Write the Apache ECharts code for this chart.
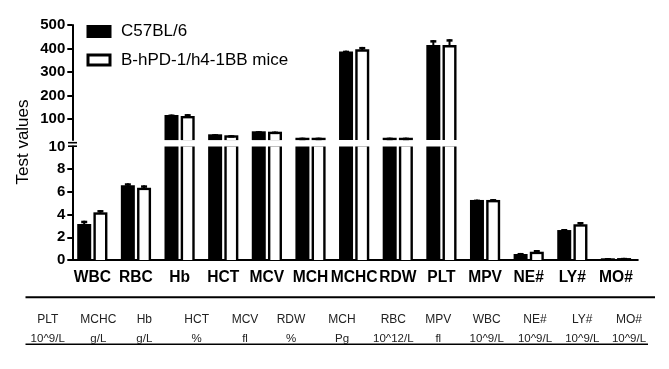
<!DOCTYPE html>
<html><head><meta charset="utf-8">
<script src="https://cdn.jsdelivr.net/npm/echarts@6/dist/echarts.min.js"></script>
<style>html,body{margin:0;padding:0;background:#fff}#c{width:669px;height:369px}</style>
</head><body><div id="c"></div>
<script>
// ---- data ----
const categories = ['WBC','RBC','Hb','HCT','MCV','MCH','MCHC','RDW','PLT','MPV','NE#','LY#','MO#'];
const seriesNames = ['C57BL/6','B-hPD-1/h4-1BB mice'];
const c57Values = [3.17, 6.58, 117, 34.7, 47.5, 20, 387, 20, 415, 5.29, 0.53, 2.64, 0.15];
const c57Errors = [0.29, 0.18, 2, 0.5, 0.5, 0.3, 4, 0.3, 21, 0.03, 0.09, 0.09, 0.02];
const hpdValues = [4.2, 6.37, 112.8, 30.5, 45.8, 20, 397, 20, 415, 5.29, 0.73, 3.15, 0.17];
const hpdErrors = [0.2, 0.21, 8, 0.5, 0.5, 0.3, 10, 0.3, 25, 0.08, 0.15, 0.2, 0.02];
const lowerTicks = [0, 2, 4, 6, 8];
const upperTicks = [100, 200, 300, 400, 500];
const tableNames = ['PLT','MCHC','Hb','HCT','MCV','RDW','MCH','RBC','MPV','WBC','NE#','LY#','MO#'];
const tableUnits = ['10^9/L','g/L','g/L','%','fl','%','Pg','10^12/L','fl','10^9/L','10^9/L','10^9/L','10^9/L'];

// ---- layout / style ----
const FONT = '"Liberation Sans", Arial, sans-serif';
const BW = 14, BORDER = 2.4, OFFSET = 8.1;
const tableColX = [47.7, 98.3, 144.3, 196.7, 245, 291, 342, 393.3, 438.3, 486.7, 535, 582.3, 629];

function toData(vals, errs) { return vals.map((v, i) => [i, v, errs[i]]); }

function makeRender(kind) {
  return function (params, api) {
    const cat = api.value(0), v = api.value(1), e = api.value(2);
    const cs = params.coordSys;
    const p = api.coord([cat, v]);
    const cx = p[0] + (kind === 'black' ? -OFFSET : OFFSET);
    const bottom = cs.y + cs.height;
    const top = Math.max(p[1], cs.y);
    const children = [];
    if (top < bottom) {
      children.push({type: 'rect', shape: {x: cx - BW / 2, y: top, width: BW, height: bottom - top}, style: {fill: '#000'}});
      if (kind === 'white') {
        const it = Math.max(p[1] + BORDER, cs.y);
        if (it < bottom) children.push({type: 'rect', shape: {x: cx - BW / 2 + BORDER, y: it, width: BW - 2 * BORDER, height: bottom - it}, style: {fill: '#fff'}});
      }
    }
    if (e > 0) {
      const pe = api.coord([cat, v + e]);
      if (p[1] <= bottom && p[1] >= cs.y) {
        children.push({type: 'rect', shape: {x: cx - 1, y: pe[1], width: 2, height: p[1] - pe[1] + 1}, style: {fill: '#000'}});
        children.push({type: 'rect', shape: {x: cx - 3, y: pe[1], width: 6, height: 2.5}, style: {fill: '#000'}});
      }
    }
    return {type: 'group', children};
  };
}

const axisLineStyle = {color: '#000', width: 2};
const labelStyle = {color: '#000', fontSize: 15, fontWeight: 'bold', fontFamily: FONT};

const graphics = [];
graphics.push({type: 'text', x: 23, y: 142, rotation: Math.PI / 2,
  style: {text: 'Test values', font: '17px ' + FONT, fill: '#000', align: 'center', verticalAlign: 'middle'}});
// axis break markers
[142.7, 146.2].forEach(y => graphics.push({type: 'line', shape: {x1: 68, y1: y, x2: 77, y2: y}, style: {stroke: '#000', lineWidth: 1.6}}));
// table
graphics.push({type: 'line', shape: {x1: 25.5, y1: 297.3, x2: 655, y2: 297.3}, style: {stroke: '#000', lineWidth: 2}});
graphics.push({type: 'line', shape: {x1: 25.5, y1: 344.3, x2: 648, y2: 344.3}, style: {stroke: '#000', lineWidth: 1.5}});
tableNames.forEach((t, i) => graphics.push({type: 'text', x: tableColX[i], y: 319.3,
  style: {text: t, font: '12px ' + FONT, fill: '#222', align: 'center', verticalAlign: 'middle'}}));
tableUnits.forEach((t, i) => graphics.push({type: 'text', x: tableColX[i], y: 339.3,
  style: {text: t, font: '11.5px ' + FONT, fill: '#222', align: 'center', verticalAlign: 'middle'}}));

const chart = echarts.init(document.getElementById('c'), null, {renderer: 'canvas'});
chart.setOption({
  animation: false,
  backgroundColor: '#fff',
  legend: {
    orient: 'vertical', left: 86.5, top: 23, padding: 0, itemGap: 11.6,
    itemWidth: 22, itemHeight: 10,
    textStyle: {fontSize: 17, fontFamily: FONT, color: '#000', padding: [0, 0, 0, 6]},
    data: [
      {name: seriesNames[0], icon: 'rect', itemStyle: {color: '#000', borderColor: '#000', borderWidth: 3}},
      {name: seriesNames[1], icon: 'rect', itemStyle: {color: '#fff', borderColor: '#000', borderWidth: 3}}
    ]
  },
  grid: [
    {left: 70.5, width: 567.3, top: 146.5, height: 113.5},
    {left: 70.5, width: 567.3, top: 25.1, height: 115}
  ],
  xAxis: [
    {gridIndex: 0, type: 'category', data: categories,
      axisLine: {lineStyle: axisLineStyle},
      axisTick: {alignWithLabel: true, length: 5, lineStyle: axisLineStyle},
      axisLabel: Object.assign({}, labelStyle, {interval: 0, margin: 10, fontSize: 15.6})},
    {gridIndex: 1, type: 'category', data: categories, show: false}
  ],
  yAxis: [
    {gridIndex: 0, type: 'value', min: 0, max: 10, interval: 2, offset: -1.8,
      axisLine: {show: true, lineStyle: axisLineStyle},
      axisTick: {show: true, length: 5, lineStyle: axisLineStyle, customValues: lowerTicks},
      axisLabel: Object.assign({margin: 7}, labelStyle),
      splitLine: {show: false}},
    {gridIndex: 1, type: 'value', min: 10, max: 500, offset: -1.8,
      axisLine: {show: true, lineStyle: axisLineStyle},
      axisTick: {show: true, length: 5, lineStyle: axisLineStyle, customValues: upperTicks},
      axisLabel: Object.assign({margin: 7, customValues: upperTicks}, labelStyle),
      splitLine: {show: false}}
  ],
  series: [
    {type: 'custom', name: seriesNames[0], xAxisIndex: 0, yAxisIndex: 0, renderItem: makeRender('black'),
      encode: {x: 0, y: 1}, itemStyle: {color: '#000'}, data: toData(c57Values, c57Errors)},
    {type: 'custom', name: seriesNames[0], xAxisIndex: 1, yAxisIndex: 1, renderItem: makeRender('black'),
      encode: {x: 0, y: 1}, itemStyle: {color: '#000'}, data: toData(c57Values, c57Errors)},
    {type: 'custom', name: seriesNames[1], xAxisIndex: 0, yAxisIndex: 0, renderItem: makeRender('white'),
      encode: {x: 0, y: 1}, itemStyle: {color: '#fff'}, data: toData(hpdValues, hpdErrors)},
    {type: 'custom', name: seriesNames[1], xAxisIndex: 1, yAxisIndex: 1, renderItem: makeRender('white'),
      encode: {x: 0, y: 1}, itemStyle: {color: '#fff'}, data: toData(hpdValues, hpdErrors)}
  ],
  graphic: graphics
});
</script></body></html>
